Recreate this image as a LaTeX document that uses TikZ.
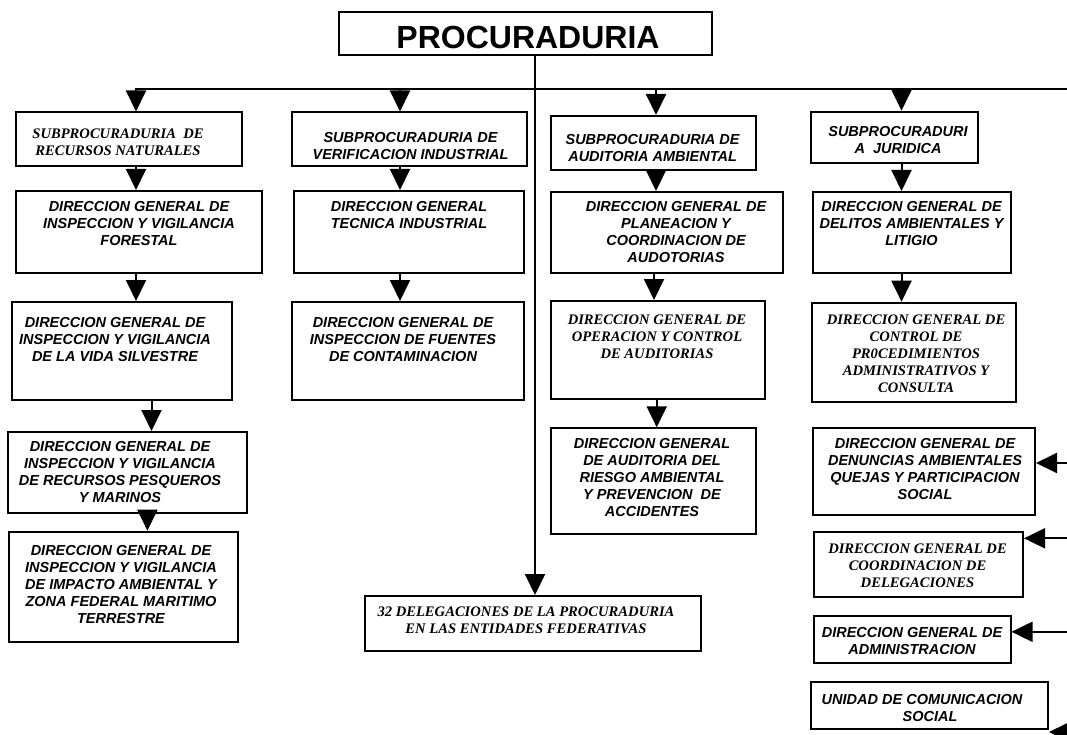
\documentclass[tikz,border=0pt]{standalone}
\usepackage{fontspec}
\setmainfont{Liberation Sans}
\newfontfamily\arialf{Liberation Sans}
\newfontfamily\timesf{Liberation Serif}
\usetikzlibrary{arrows.meta}
\newcommand\orgbox[5]{\node[box, minimum width={#4-#2}, minimum height={#5-#3}] (#1) at ({(#2+#4)/2},{(#3+#5)/2}) {};}
\tikzset{
  box/.style={draw, line width=2pt, inner sep=0pt, rectangle},
  sanst/.style={inner sep=0pt, align=center, font=\arialf\bfseries\itshape\fontsize{14.5}{17}\selectfont},
  seriftt/.style={inner sep=0pt, align=center, font=\timesf\bfseries\itshape\fontsize{14.6}{17}\selectfont},
  conn/.style={line width=2pt},
  arr/.style={line width=2pt, -{Triangle[width=20pt,length=21pt]}},
}
\begin{document}
\begin{tikzpicture}[x=1pt,y=-1pt]
\useasboundingbox (0,0) rectangle (1067,735);
\clip (0,0) rectangle (1067,735);
% boxes
\orgbox{b0}{339}{12}{712}{55}
\orgbox{b1}{15.5}{112.5}{242}{166}
\orgbox{b1b}{16}{191}{262}{272.7}
\orgbox{b1c}{12}{302}{232}{400}
\orgbox{b1d}{7.6}{432}{246.5}{513}
\orgbox{b1e}{9.3}{531.7}{238}{642.3}
\orgbox{b2}{292}{112.5}{527}{166}
\orgbox{b2b}{294}{191}{524}{272.7}
\orgbox{b2c}{292}{302}{524}{400}
\orgbox{b32}{364.5}{596}{700.5}{651}
\orgbox{b3}{551}{116}{756}{170}
\orgbox{b3b}{551}{192}{783}{273.3}
\orgbox{b3c}{551}{301}{764.6}{399.3}
\orgbox{b3d}{551}{428.3}{756}{534.3}
\orgbox{b4}{811}{111.7}{978}{163.3}
\orgbox{b4b}{812.5}{192}{1010.5}{273}
\orgbox{b4c}{811.5}{302.7}{1016}{402.3}
\orgbox{b4d}{812.5}{428.3}{1035}{515}
\orgbox{b4e}{813.6}{531.7}{1023}{596.7}
\orgbox{b4f}{813.6}{616}{1010.5}{663.3}
\orgbox{b4g}{811}{682.3}{1048}{729.3}
% texts
\node[inner sep=0pt, font=\arialf\bfseries\fontsize{32}{38}\selectfont] (t0) at (528,37.5) {PROCURADURIA};
\node[seriftt] (t1) at (118,142.5) {SUBPROCURADURIA~~DE\\RECURSOS NATURALES};
\node[sanst] (t1b) at (139,223.7) {DIRECCION GENERAL DE\\INSPECCION Y VIGILANCIA\\FORESTAL};
\node[sanst] (t1c) at (115,339.5) {DIRECCION GENERAL DE\\INSPECCION Y VIGILANCIA\\DE LA VIDA SILVESTRE};
\node[sanst] (t1d) at (120,472.5) {DIRECCION GENERAL DE\\INSPECCION Y VIGILANCIA\\DE RECURSOS PESQUEROS\\Y MARINOS};
\node[sanst] (t1e) at (121,584.5) {DIRECCION GENERAL DE\\INSPECCION Y VIGILANCIA\\DE IMPACTO AMBIENTAL Y\\ZONA FEDERAL MARITIMO\\TERRESTRE};
\node[sanst] (t2) at (410.5,145.8) {SUBPROCURADURIA DE\\VERIFICACION INDUSTRIAL};
\node[sanst] (t2b) at (409,215) {DIRECCION GENERAL\\TECNICA INDUSTRIAL};
\node[sanst] (t2c) at (403,339.3) {DIRECCION GENERAL DE\\INSPECCION DE FUENTES\\DE CONTAMINACION};
\node[seriftt] (t32) at (526,620) {32 DELEGACIONES DE LA PROCURADURIA\\EN LAS ENTIDADES FEDERATIVAS};
\node[sanst] (t3) at (652.6,148.3) {SUBPROCURADURIA DE\\AUDITORIA AMBIENTAL};
\node[sanst] (t3b) at (676,232) {DIRECCION GENERAL DE\\PLANEACION Y\\COORDINACION DE\\AUDOTORIAS};
\node[seriftt] (t3c) at (657,337.2) {DIRECCION GENERAL DE\\OPERACION Y CONTROL\\DE AUDITORIAS};
\node[sanst] (t3d) at (652,478) {DIRECCION GENERAL\\DE AUDITORIA DEL\\RIESGO AMBIENTAL\\Y PREVENCION~~DE\\ACCIDENTES};
\node[sanst] (t4) at (898,140.3) {SUBPROCURADURI\\A~~JURIDICA};
\node[sanst] (t4b) at (911.5,223.3) {DIRECCION GENERAL DE\\DELITOS AMBIENTALES Y\\LITIGIO};
\node[seriftt] (t4c) at (916,353.4) {DIRECCION GENERAL DE\\CONTROL DE\\PR0CEDIMIENTOS\\ADMINISTRATIVOS Y\\CONSULTA};
\node[sanst] (t4d) at (925,468.7) {DIRECCION GENERAL DE\\DENUNCIAS AMBIENTALES\\QUEJAS Y PARTICIPACION\\SOCIAL};
\node[seriftt] (t4e) at (917.5,565.7) {DIRECCION GENERAL DE\\COORDINACION DE\\DELEGACIONES};
\node[sanst] (t4f) at (912,641.2) {DIRECCION GENERAL DE\\ADMINISTRACION};
\node[sanst] (t4g) at (922,708) {UNIDAD DE COMUNICACION\\\hspace*{16pt}SOCIAL};
% connector coordinates
\coordinate (hl) at (135,89);
\coordinate (hr) at (1067,89);
\coordinate (a2) at (400,89);
\coordinate (a3) at (656,89);
\coordinate (a4) at (901.5,89);
\coordinate (vx) at (535,0);
\coordinate (c1) at (136,0);
\coordinate (c3) at (654,0);
\coordinate (c3d) at (656.7,0);
\coordinate (c1c) at (151.5,0);
\coordinate (c1d) at (147.4,0);
\coordinate (rd) at (1067,463);
\coordinate (re) at (1067,538.3);
\coordinate (rf) at (1067,631.8);
\coordinate (rg) at (1067,732);
% connectors
\draw[conn] (hl) -- (hr);
\draw[arr] (b0.south -| vx) -- (b32.north -| vx);
\draw[arr] (hl -| c1) -- (c1 |- b1.north);
\draw[arr] (a2) -- (a2 |- b2.north);
\draw[arr] (a3) -- (a3 |- b3.north);
\draw[arr] (a4) -- (a4 |- b4.north);
\draw[arr] (b1.south -| c1) -- (b1b.north -| c1);
\draw[arr] (b1b.south -| c1) -- (b1c.north -| c1);
\draw[arr] (b1c.south -| c1c) -- (b1d.north -| c1c);
\draw[arr] (b1d.south -| c1d) ++(0,-4) -- (b1e.north -| c1d);
\draw[arr] (b2.south -| a2) -- (b2b.north -| a2);
\draw[arr] (b2b.south -| a2) -- (b2c.north -| a2);
\draw[arr] (b3.south -| a3) -- (b3b.north -| a3);
\draw[arr] (b3b.south -| c3) -- (b3c.north -| c3);
\draw[arr] (b3c.south -| c3d) -- (b3d.north -| c3d);
\draw[arr] (b4.south -| a4) -- (b4b.north -| a4);
\draw[arr] (b4b.south -| a4) -- (b4c.north -| a4);
\draw[arr] (rd) -- (rd -| b4d.east);
\draw[arr] (re) -- (re -| b4e.east);
\draw[arr] (rf) -- (rf -| b4f.east);
\draw[arr] (rg) -- (rg -| b4g.east);
\end{tikzpicture}
\end{document}
